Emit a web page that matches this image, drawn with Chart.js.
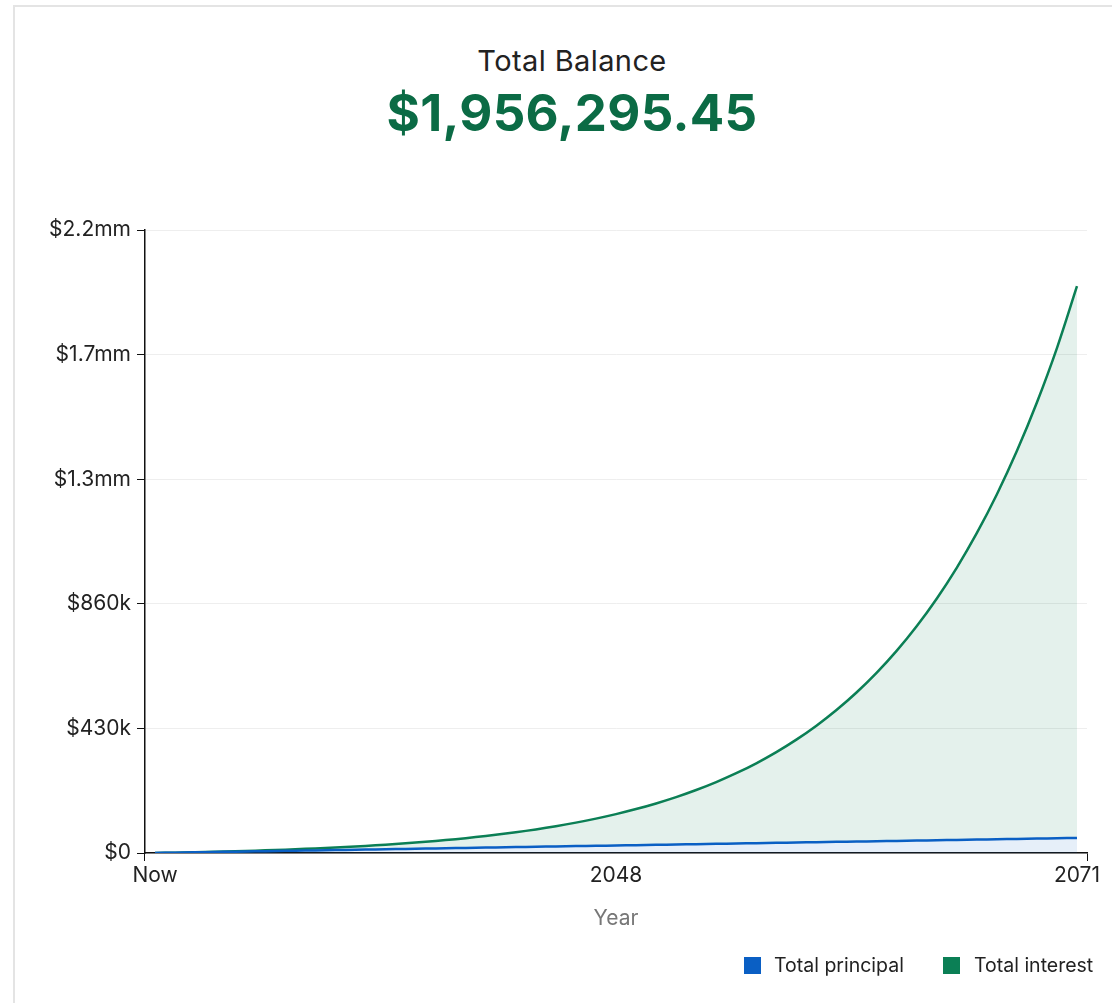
<!DOCTYPE html>
<html>
<head>
<meta charset="utf-8">
<title>Total Balance</title>
<script src="https://cdn.jsdelivr.net/npm/chart.js@4/dist/chart.umd.min.js"></script>
<style>
  body { margin: 0; background: #fff; font-family: Inter, "Open Sans", sans-serif; }
  .card { position: absolute; left: 13px; top: 5px; width: 1130px; height: 1010px; border: 2px solid #e4e4e4; box-sizing: border-box; }
  .heading { position: absolute; left: 0; width: 1144px; text-align: center; line-height: 1.2; }
  #title { top: 44px; font-size: 29px; color: #222; letter-spacing: 0.4px; }
  #amount { top: 82px; font-size: 51px; font-weight: 700; color: #0b6b45; letter-spacing: 0.3px; }
  .chart-box { position: absolute; left: 0; top: 200px; width: 1112px; height: 803px; }
  .legend { position: absolute; top: 955px; font-size: 19.5px; color: #222; line-height: 20px; }
  .legend span { position: absolute; top: 0; white-space: nowrap; }
  .legend i { position: absolute; top: 2px; width: 17px; height: 17px; }
</style>
</head>
<body>
<div class="card"></div>
<div class="heading" id="title">Total Balance</div>
<div class="heading" id="amount">$1,956,295.45</div>
<div class="chart-box"><canvas id="balanceChart"></canvas></div>
<div class="legend" id="legend"></div>
<script>
// Years on the x axis ("Now" = 2025)
const years = ['Now', '2026', '2027', '2028', '2029', '2030', '2031', '2032', '2033', '2034',
  '2035', '2036', '2037', '2038', '2039', '2040', '2041', '2042', '2043', '2044',
  '2045', '2046', '2047', '2048', '2049', '2050', '2051', '2052', '2053', '2054',
  '2055', '2056', '2057', '2058', '2059', '2060', '2061', '2062', '2063', '2064',
  '2065', '2066', '2067', '2068', '2069', '2070', '2071'];
const shownYears = ['Now', '2048', '2071'];

// Stacked series
const principal = [0, 1130, 2260, 3390, 4520, 5650, 6780, 7910, 9040, 10170,
  11300, 12430, 13560, 14690, 15820, 16950, 18080, 19210, 20340, 21470,
  22600, 23730, 24860, 25990, 27120, 28250, 29380, 30510, 31640, 32770,
  33900, 35030, 36160, 37290, 38420, 39550, 40680, 41810, 42940, 44070,
  45200, 46330, 47460, 48590, 49720, 50850, 51980];
const interest = [0, 153, 460, 939, 1612, 2501, 3632, 5035, 6741, 8788,
  11216, 14071, 17404, 21273, 25741, 30882, 36774, 43510, 51190, 59926,
  69847, 81093, 93825, 108220, 124478, 142823, 163504, 186803, 213033, 242547,
  275738, 313048, 354969, 402058, 454933, 514289, 580901, 655645, 739493, 833536,
  939003, 1057263, 1189849, 1338475, 1505077, 1691810, 1904315];

const yTickLabels = ['$0', '$430k', '$860k', '$1.3mm', '$1.7mm', '$2.2mm'];

const blue = '#0a5fc4';
const green = '#0b7f55';
const font = 'Inter, "Open Sans", sans-serif';

const chart = new Chart(document.getElementById('balanceChart'), {
  type: 'line',
  data: {
    labels: years,
    datasets: [
      { label: 'Total principal', data: principal, borderColor: blue, backgroundColor: 'rgba(10,95,196,0.10)',
        borderWidth: 2.5, pointRadius: 0, tension: 0.35, fill: 'origin' },
      { label: 'Total interest', data: interest, borderColor: green, backgroundColor: 'rgba(11,127,85,0.11)',
        borderWidth: 2.5, pointRadius: 0, tension: 0.35, fill: '-1' }
    ]
  },
  options: {
    responsive: true,
    maintainAspectRatio: false,
    animation: false,
    layout: { padding: { top: 30, right: 25, bottom: 60, left: 0 } },
    plugins: {
      tooltip: { enabled: false },
      legend: { display: false }
    },
    scales: {
      x: {
        offset: true,
        afterFit: scale => { scale.height = 90; },
        border: { color: '#111', width: 1.5 },
        grid: {
          offset: true,
          drawOnChartArea: false,
          tickLength: 8,
          tickColor: ctx => (ctx.type === 'scale' || ctx.index === 0) ? '#111' : 'rgba(0,0,0,0)'
        },
        ticks: {
          autoSkip: false, maxRotation: 0, padding: 2,
          color: '#222', font: { family: font, size: 21 },
          callback: (v, i) => shownYears.includes(years[i]) ? years[i] : ''
        },
        title: { display: true, text: 'Year', color: '#777', font: { family: font, size: 21 }, padding: { top: 0, bottom: 12 } }
      },
      y: {
        stacked: true,
        min: 0,
        max: 2150000,
        afterFit: scale => { scale.width = 145; },
        border: { color: '#111', width: 1.5 },
        grid: { color: '#eeeeee', tickColor: '#111', tickLength: 8 },
        ticks: {
          stepSize: 430000, padding: 6,
          color: '#222', font: { family: font, size: 21 },
          callback: (v, i) => yTickLabels[i]
        }
      }
    }
  }
});

// Legend drawn as plain text under the chart, from the dataset labels and colours
const legendX = [[744, 774], [943, 974]];
document.getElementById('legend').innerHTML = chart.data.datasets.map((ds, i) =>
  `<i style="left:${legendX[i][0]}px;background:${ds.borderColor}"></i><span style="left:${legendX[i][1]}px">${ds.label}</span>`
).join('');
</script>
</body>
</html>
